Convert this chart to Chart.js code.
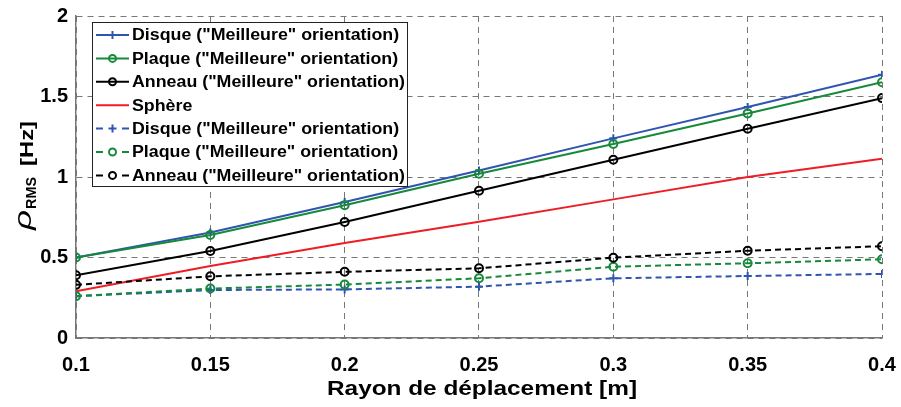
<!DOCTYPE html>
<html>
<head>
<meta charset="utf-8">
<script src="https://cdn.jsdelivr.net/npm/chart.js@4.4.0/dist/chart.umd.min.js"></script>
<style>
  body { margin: 0; background: #fff; }
</style>
</head>
<body>
<canvas id="myChart" width="901" height="407"></canvas>
<script>
// rayon de déplacement [m]
var rayon = [0.1, 0.15, 0.2, 0.25, 0.3, 0.35, 0.4];

// courbes pleines
var disque = [0.50, 0.655, 0.845, 1.04, 1.24, 1.435, 1.635];
var plaque = [0.50, 0.64, 0.825, 1.02, 1.205, 1.395, 1.588];
var anneau = [0.39, 0.54, 0.72, 0.915, 1.107, 1.30, 1.49];
var sphere = [0.29, 0.447, 0.59, 0.722, 0.861, 1.00, 1.114];

// courbes pointillées
var disque2 = [0.26, 0.298, 0.302, 0.319, 0.371, 0.385, 0.398];
var plaque2 = [0.26, 0.307, 0.332, 0.371, 0.443, 0.464, 0.489];
var anneau2 = [0.33, 0.383, 0.411, 0.433, 0.499, 0.542, 0.57];

var noms = [
  'Disque ("Meilleure" orientation)',
  'Plaque ("Meilleure" orientation)',
  'Anneau ("Meilleure" orientation)',
  'Sphère',
  'Disque ("Meilleure" orientation)',
  'Plaque ("Meilleure" orientation)',
  'Anneau ("Meilleure" orientation)'
];
var xTitre = 'Rayon de déplacement [m]';

var FONT = "'Liberation Sans', Arial, sans-serif";
var BLEU = '#2f55b0';
var VERT = '#16893a';
var ROUGE = '#ee1c25';
var NOIR = '#000000';
var TIRET = [6, 4];

function pts(vals) {
  return vals.map(function (v, i) { return { x: rayon[i], y: v }; });
}

function serie(idx, vals, color, style, dashed) {
  return {
    label: noms[idx],
    data: pts(vals),
    borderColor: color,
    backgroundColor: color,
    borderWidth: 2,
    borderDash: dashed ? TIRET : [],
    pointStyle: style || 'circle',
    pointRadius: style ? 4 : 0,
    pointBorderWidth: 2,
    pointBorderColor: color,
    pointBackgroundColor: 'rgba(0,0,0,0)',
    tension: 0,
    order: 10 - idx  // les dernières courbes par dessus (comme matlab)
  };
}

// texte étiré en largeur (la figure d'origine est un peu plus large)
function texte(ctx, str, x, y, largeur) {
  var w = ctx.measureText(str).width;
  var k = largeur ? largeur / w : 1;
  ctx.save();
  ctx.translate(x, y);
  ctx.scale(k, 1);
  ctx.fillText(str, 0, 0);
  ctx.restore();
  return w * k;
}

// titres + légende dessinés à la main
var dessin = {
  id: 'dessin',
  afterDraw: function (chart) {
    var ctx = chart.ctx;
    ctx.save();

    // titre axe x
    ctx.fillStyle = '#000';
    ctx.font = 'bold 21px ' + FONT;
    ctx.textAlign = 'left';
    ctx.textBaseline = 'middle';
    texte(ctx, xTitre, 327, 389, 310);

    // titre axe y : rho_RMS [Hz]
    ctx.save();
    ctx.translate(33, 175);
    ctx.rotate(-Math.PI / 2);
    ctx.textBaseline = 'alphabetic';
    ctx.textAlign = 'left';
    var x0 = -55;
    ctx.font = 'italic 24px ' + FONT;
    x0 += texte(ctx, 'ρ', x0, -2, 20);
    ctx.font = 'bold 15px ' + FONT;
    x0 += texte(ctx, 'RMS', x0 + 1, 3, 32);
    ctx.font = 'bold 19px ' + FONT;
    texte(ctx, '[Hz]', x0 + 12, 0, 45);
    ctx.restore();

    // légende
    var bx = 92, by = 22, bw = 316, bh = 165;
    ctx.fillStyle = '#fff';
    ctx.fillRect(bx, by, bw, bh);
    ctx.strokeStyle = '#222';
    ctx.lineWidth = 1;
    ctx.setLineDash([]);
    ctx.strokeRect(bx + 0.5, by + 0.5, bw - 1, bh - 1);

    ctx.font = 'bold 16px ' + FONT;
    var kLeg = 273 / ctx.measureText(noms[2]).width;

    chart.data.datasets.forEach(function (ds, i) {
      var y = 35 + i * 23.4;
      var x1 = 96, x2 = 129, xm = (x1 + x2) / 2;
      ctx.strokeStyle = ds.borderColor;
      ctx.lineWidth = 2;
      ctx.setLineDash([]);
      ctx.beginPath();
      if (ds.borderDash.length) {
        ctx.moveTo(x1, y); ctx.lineTo(x1 + 7, y);
        ctx.moveTo(x2 - 7, y); ctx.lineTo(x2, y);
      } else {
        ctx.moveTo(x1, y); ctx.lineTo(x2, y);
      }
      ctx.stroke();
      if (ds.pointRadius > 0) {
        ctx.beginPath();
        if (ds.pointStyle === 'cross') {
          ctx.moveTo(xm - 4, y); ctx.lineTo(xm + 4, y);
          ctx.moveTo(xm, y - 4); ctx.lineTo(xm, y + 4);
        } else {
          ctx.arc(xm, y, 3.5, 0, Math.PI * 2);
        }
        ctx.stroke();
      }
      ctx.fillStyle = '#000';
      ctx.textAlign = 'left';
      ctx.textBaseline = 'middle';
      texte(ctx, ds.label, 132, y + 1, ctx.measureText(ds.label).width * kLeg);
    });
    ctx.restore();
  }
};

new Chart('myChart', {
  type: 'line',
  data: {
    datasets: [
      serie(0, disque, BLEU, 'cross', false),
      serie(1, plaque, VERT, 'circle', false),
      serie(2, anneau, NOIR, 'circle', false),
      serie(3, sphere, ROUGE, null, false),
      serie(4, disque2, BLEU, 'cross', true),
      serie(5, plaque2, VERT, 'circle', true),
      serie(6, anneau2, NOIR, 'circle', true)
    ]
  },
  options: {
    responsive: false,
    animation: false,
    layout: { padding: { top: 16, right: 19, left: 0, bottom: 0 } },
    plugins: {
      legend: { display: false },
      tooltip: { enabled: false }
    },
    scales: {
      x: {
        type: 'linear',
        min: 0.1,
        max: 0.4,
        afterFit: function (s) {
          s.height = 69;
          s.paddingLeft = 0;
          s.paddingRight = 0;
        },
        afterBuildTicks: function (s) {
          s.ticks = rayon.map(function (v) { return { value: v }; });
        },
        ticks: {
          padding: 15,
          color: '#000',
          font: { family: FONT, size: 20, weight: 'bold' },
          callback: function (v) { return String(parseFloat(v.toFixed(2))); }
        },
        grid: { color: '#777', lineWidth: 1, drawTicks: false },
        border: { display: true, color: '#777', width: 1.5, dash: [6, 5] }
      },
      y: {
        min: 0,
        max: 2,
        afterFit: function (s) {
          s.width = 76;
          s.paddingTop = 0;
          s.paddingBottom = 0;
        },
        ticks: {
          stepSize: 0.5,
          padding: 8,
          color: '#000',
          font: { family: FONT, size: 20, weight: 'bold' },
          callback: function (v) { return String(parseFloat(v.toFixed(2))); }
        },
        grid: { color: '#777', lineWidth: 1, drawTicks: false },
        border: { display: true, color: '#777', width: 1.5, dash: [6, 5] }
      }
    }
  },
  plugins: [dessin]
});
</script>
</body>
</html>
